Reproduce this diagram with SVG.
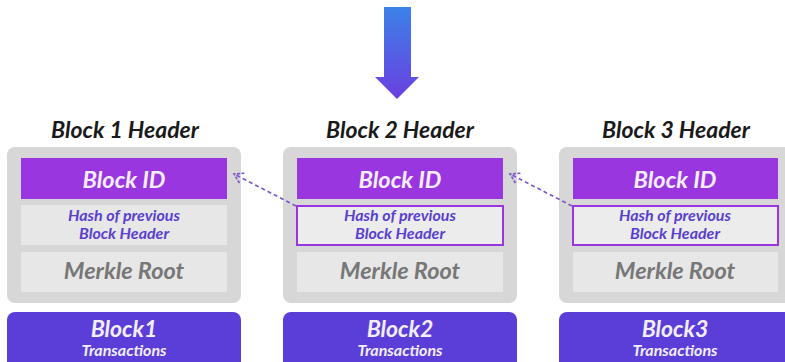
<svg xmlns="http://www.w3.org/2000/svg" width="785" height="362" viewBox="0 0 785 362">
  <defs>
    <linearGradient id="arrowGrad" x1="0" y1="0" x2="0" y2="1">
      <stop offset="0" stop-color="#3b82e8"/>
      <stop offset="1" stop-color="#6b3fe0"/>
    </linearGradient>
    <marker id="chev" viewBox="0 0 14 14" refX="12" refY="7" markerWidth="14" markerHeight="14" markerUnits="userSpaceOnUse" orient="auto">
      <path d="M3 1.5 L12 7 L3 12.5" fill="none" stroke="#7f56cc" stroke-width="1.7" stroke-dasharray="3 1.5"/>
    </marker>
    <style>
      text { font-family: Lato, "Liberation Sans", sans-serif; font-style: italic; font-weight: bold; text-anchor: middle; }
      .outer { fill: #d7d7d7; }
      .bid { fill: #9a36df; }
      .row { fill: #e7e7e7; }
      .rowsel { fill: #ececec; stroke: #9a36df; stroke-width: 2; }
      .tx { fill: #5b3ed8; }
      .hdr { font-size: 23px; fill: #1a1a1a; }
      .bidt { font-size: 23.5px; fill: #f4eefc; }
      .hash { font-size: 16px; fill: #5a3fcf; }
      .mk { font-size: 23.5px; fill: #777777; }
      .txt1 { font-size: 23px; fill: #f2eefc; }
      .txt2 { font-size: 16px; fill: #f2eefc; }
      .link { fill: none; stroke: #7f56cc; stroke-width: 1.7; stroke-dasharray: 4 3; }
    </style>
  </defs>

  <!-- big downward arrow -->
  <g id="arrow">
    <path d="M384 7 H411 V77 H419 L397 99 L375 77 H384 Z" fill="url(#arrowGrad)"/>
  </g>

  <!-- block 1 -->
  <g id="block1">
    <text class="hdr" x="125" y="138">Block 1 Header</text>
    <rect class="outer" x="7" y="147" width="234" height="156" rx="8"/>
    <rect class="bid" x="21" y="158" width="206" height="41"/>
    <text class="bidt" x="124" y="188">Block ID</text>
    <rect class="row" x="21" y="205" width="206" height="40"/>
    <text class="hash" x="124" y="221">Hash of previous</text>
    <text class="hash" x="124" y="239">Block Header</text>
    <rect class="row" x="21" y="252" width="206" height="40"/>
    <text class="mk" x="124" y="279">Merkle Root</text>
    <rect class="tx" x="7" y="312" width="234" height="60" rx="8"/>
    <text class="txt1" x="124" y="337">Block1</text>
    <text class="txt2" x="124" y="356">Transactions</text>
  </g>

  <!-- block 2 -->
  <g id="block2">
    <text class="hdr" x="400" y="138">Block 2 Header</text>
    <rect class="outer" x="283" y="147" width="234" height="156" rx="8"/>
    <rect class="bid" x="297" y="158" width="206" height="41"/>
    <text class="bidt" x="400" y="188">Block ID</text>
    <rect class="rowsel" x="297" y="206" width="206" height="39"/>
    <text class="hash" x="400" y="221">Hash of previous</text>
    <text class="hash" x="400" y="239">Block Header</text>
    <rect class="row" x="297" y="252" width="206" height="40"/>
    <text class="mk" x="400" y="279">Merkle Root</text>
    <rect class="tx" x="283" y="312" width="234" height="60" rx="8"/>
    <text class="txt1" x="400" y="337">Block2</text>
    <text class="txt2" x="400" y="356">Transactions</text>
  </g>

  <!-- block 3 -->
  <g id="block3">
    <text class="hdr" x="676" y="138">Block 3 Header</text>
    <rect class="outer" x="559" y="147" width="234" height="156" rx="8"/>
    <rect class="bid" x="573" y="158" width="205" height="41"/>
    <text class="bidt" x="675" y="188">Block ID</text>
    <rect class="rowsel" x="573" y="206" width="205" height="39"/>
    <text class="hash" x="675" y="221">Hash of previous</text>
    <text class="hash" x="675" y="239">Block Header</text>
    <rect class="row" x="573" y="252" width="205" height="40"/>
    <text class="mk" x="675" y="279">Merkle Root</text>
    <rect class="tx" x="559" y="312" width="234" height="60" rx="8"/>
    <text class="txt1" x="675" y="337">Block3</text>
    <text class="txt2" x="675" y="356">Transactions</text>
  </g>

  <!-- dashed links: previous-hash field points back to the prior Block ID -->
  <g id="connectors">
    <path class="link" d="M296 206 L234 174" marker-end="url(#chev)"/>
    <path class="link" d="M572 206 L510 174" marker-end="url(#chev)"/>
  </g>
</svg>
